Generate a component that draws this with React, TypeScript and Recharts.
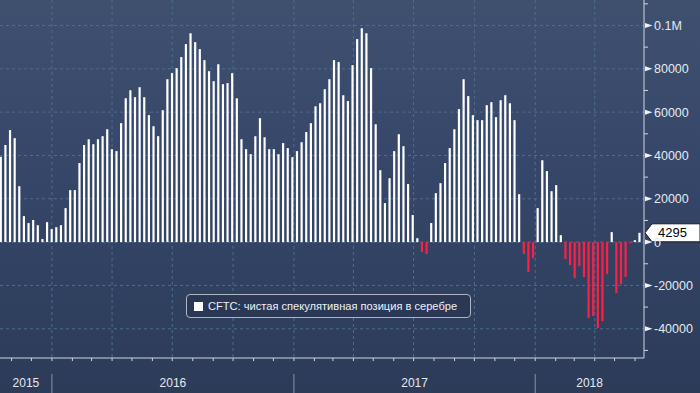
import React from 'react';
import { ComposedChart, Bar, Cell, XAxis, YAxis, CartesianGrid, ReferenceLine } from 'recharts';

// ---- data ----
const START_DATE = '2015-10-16'; // first weekly observation
const netPositions = [
  39400, 44800, 51700, 48000, 25800, 12000, 8800, 10200, 7800, 1400,
  9200, 6000, 6900, 7800, 15700, 24000, 24000, 36500, 44800, 47500,
  45200, 47500, 48900, 52100, 42900, 42000, 54900, 66400, 70100, 66900,
  71500, 66900, 58600, 53500, 48900, 60900, 75200, 78000, 80300, 85400,
  91400, 96400, 92300, 89100, 84000, 78900, 74300, 82100, 72900, 73400,
  78000, 66400, 47500, 42900, 40600, 48900, 57200, 48400, 42900, 42900,
  40600, 45700, 43400, 39200, 42000, 46100, 50800, 54900, 62700, 64100,
  70600, 75200, 84000, 83100, 67800, 65100, 81700, 93700, 98700, 96400,
  80300, 54400, 33200, 18000, 29500, 42000, 49800, 44300, 26800, 12500,
  1800, -4500, -5500, 8800, 22600, 27200, 36500, 43400, 52100, 61400,
  75200, 67400, 58600, 56300, 56300, 63200, 64600, 57700, 65500, 67800,
  64100, 56300, 22100, -5500, -13800, -7400, 15700, 37800, 32800, 23500,
  26300, 3200, -7800, -10600, -16600, -11100, -16100, -35100, -34100, -39700,
  -36500, -14800, 4600, -23500, -19400, -16100, -500, 900, 4295,
];
const yMajorTicks = [-40000, -20000, 0, 20000, 40000, 60000, 80000, 100000];
const yMinorTicks = [-50000, -30000, -10000, 10000, 30000, 50000, 70000, 90000, 110000];
const yTickLabels: Record<number, string> = {
  [-40000]: '-40000', [-20000]: '-20000', 0: '0', 20000: '20000',
  40000: '40000', 60000: '60000', 80000: '80000', 100000: '0.1M',
};
const years = [2015, 2016, 2017, 2018];
const legendLabel = 'CFTC: чистая спекулятивная позиция в серебре';
const Y_DOMAIN: [number, number] = [-53500, 111760];

// ---- derived ----
const DAY = 86400000;
const t0 = Date.parse(START_DATE + 'T00:00:00Z') / DAY;
const data = netPositions.map((v, i) => ({ t: t0 + i * 7, v }));
const tLast = data[data.length - 1].t;
const X_DOMAIN: [number, number] = [t0 - 1.5, tLast + 6.5];

const dayOf = (y: number, m: number) => Date.UTC(y, m, 1) / DAY;
const monthStarts: number[] = [];
const quarterStarts: number[] = [];
const janStarts = new Set<number>();
for (let y = 2015; y <= 2018; y++) {
  for (let m = 0; m < 12; m++) {
    const d = dayOf(y, m);
    if (d > X_DOMAIN[0] && d < X_DOMAIN[1]) {
      monthStarts.push(d);
      if (m % 3 === 0) quarterStarts.push(d);
      if (m === 0) janStarts.add(d);
    }
  }
}
const yearMids = new Map<number, string>();
years.forEach((y) => {
  const a = Math.max(dayOf(y, 0), X_DOMAIN[0]);
  const b = Math.min(dayOf(y + 1, 0), X_DOMAIN[1]);
  yearMids.set((a + b) / 2, String(y));
});
const xTicks = [...monthStarts, ...Array.from(yearMids.keys())];

const FONT = '"Liberation Sans", Arial, sans-serif';
const TEXT = '#e4e9f0';
const AXIS = '#cfd6e0';

const XTick = (props: any) => {
  const { x, y, payload } = props;
  const v = payload.value;
  if (yearMids.has(v)) {
    return (
      <text x={x} y={y + 29} textAnchor="middle" fill={TEXT} fontSize={12} fontFamily={FONT}>
        {yearMids.get(v)}
      </text>
    );
  }
  return (
    <g>
      <line x1={x} x2={x} y1={y} y2={y + 3} stroke={AXIS} strokeWidth={1} />
      {janStarts.has(v) && <line x1={x} x2={x} y1={y + 16} y2={y + 35} stroke="#8a94a6" strokeWidth={1} />}
    </g>
  );
};

const YTick = (props: any) => {
  const { x, y, payload } = props;
  const v = payload.value;
  if (!(v in yTickLabels)) {
    return <line x1={x} x2={x + 4} y1={y} y2={y} stroke={AXIS} strokeWidth={1} />;
  }
  return (
    <g>
      <path d={`M${x + 1},${y - 2.5} L${x + 8.5},${y} L${x + 1},${y + 2.5} Z`} fill="#eef2f7" />
      <text x={x + 10} y={y} dy="0.36em" fill={TEXT} fontSize={12.5} fontFamily={FONT}>
        {yTickLabels[v]}
      </text>
    </g>
  );
};

const LastTag = (props: any) => {
  const { viewBox } = props;
  const x = viewBox.x + viewBox.width;
  const y = viewBox.y;
  return (
    <g>
      <path
        d={`M${x + 1},${y} L${x + 8},${y - 9} L${x + 56},${y - 9} L${x + 56},${y + 9} L${x + 8},${y + 9} Z`}
        fill="#ffffff"
        stroke="#1a1a1a"
        strokeWidth={1}
      />
      <text x={x + 14} y={y} dy="0.36em" fill="#000" fontSize={13} fontFamily={FONT}>
        {String(netPositions[netPositions.length - 1])}
      </text>
    </g>
  );
};

export default function App() {
  return (
    <div
      style={{
        position: 'absolute',
        left: 0,
        top: 0,
        width: 700,
        height: 393,
        background: 'linear-gradient(to bottom, #3f506f 0%, #36476a 40%, #2c3b58 100%)',
        overflow: 'hidden',
      }}
    >
      <ComposedChart width={700} height={393} data={data} margin={{ top: 0, right: 0, bottom: 0, left: 0 }}>
        <CartesianGrid
          stroke="#4f6d8f"
          strokeDasharray="3 3"
          horizontalValues={yMajorTicks}
          verticalValues={quarterStarts}
        />
        <XAxis
          dataKey="t"
          type="number"
          domain={X_DOMAIN}
          allowDataOverflow
          ticks={xTicks}
          interval={0}
          tick={<XTick />}
          tickLine={false}
          tickSize={0}
          tickMargin={0}
          axisLine={{ stroke: AXIS }}
          height={35}
        />
        <YAxis
          orientation="right"
          type="number"
          domain={Y_DOMAIN}
          allowDataOverflow
          ticks={[...yMajorTicks, ...yMinorTicks].sort((a, b) => a - b)}
          interval={0}
          tick={<YTick />}
          tickLine={false}
          tickSize={0}
          tickMargin={0}
          axisLine={{ stroke: AXIS }}
          width={56}
        />
        <Bar dataKey="v" barSize={2.2} isAnimationActive={false}>
          {data.map((d, i) => (
            <Cell key={i} fill={d.v < 0 ? '#ff1f45' : '#ffffff'} />
          ))}
        </Bar>
        <ReferenceLine y={netPositions[netPositions.length - 1]} stroke="none" label={<LastTag />} />
      </ComposedChart>
      <div
        style={{
          position: 'absolute',
          left: 186,
          top: 294,
          width: 285,
          height: 24,
          border: '1px solid #aeb6c2',
          borderRadius: 4,
          background: '#2b3855',
          boxSizing: 'border-box',
          fontFamily: FONT,
        }}
      >
        <div style={{ position: 'absolute', left: 7, top: 7, width: 9, height: 9, background: '#ffffff' }} />
        <div
          style={{
            position: 'absolute',
            left: 21,
            top: 0,
            lineHeight: '22px',
            fontSize: 11.1,
            color: '#eef1f5',
            whiteSpace: 'nowrap',
          }}
        >
          {legendLabel}
        </div>
      </div>
    </div>
  );
}
